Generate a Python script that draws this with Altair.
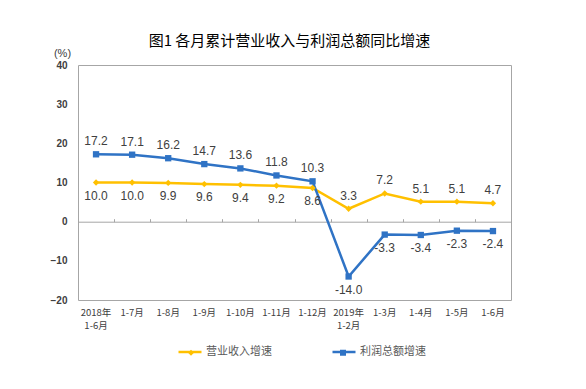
import altair as alt
import pandas as pd

categories = ["2018年|1-6月", "1-7月", "1-8月", "1-9月", "1-10月", "1-11月", "1-12月",
              "2019年|1-2月", "1-3月", "1-4月", "1-5月", "1-6月"]
revenue = [10.0, 10.0, 9.9, 9.6, 9.4, 9.2, 8.6, 3.3, 7.2, 5.1, 5.1, 4.7]
profit = [17.2, 17.1, 16.2, 14.7, 13.6, 11.8, 10.3, -14.0, -3.3, -3.4, -2.3, -2.4]
series_names = ["营业收入增速", "利润总额增速"]
colors = ["#FFC000", "#2F73C5"]
shapes = ["diamond", "square"]

rows = []
for i, c in enumerate(categories):
    r, p = revenue[i], profit[i]
    rows.append({"cat": c, "series": series_names[0], "value": r, "above": bool(r > p)})
    rows.append({"cat": c, "series": series_names[1], "value": p, "above": bool(p > r)})
df = pd.DataFrame(rows)

CJK = "Noto Sans CJK SC"
LAT = "Liberation Sans"

xscale = alt.Scale(type="band", paddingInner=0, paddingOuter=0)
yscale = alt.Scale(domain=[-20, 40], nice=False)
cscale = alt.Scale(domain=series_names, range=colors)

yaxis = alt.Axis(title="(%)", titleAngle=0, titleX=-16, titleY=-12,
                 titleAlign="center", titleBaseline="middle",
                 titleFont=LAT, titleFontSize=11, titleFontWeight="normal",
                 titleColor="#404040",
                 values=[-20, -10, 0, 10, 20, 30, 40], grid=False,
                 domain=False, ticks=False, labelPadding=11,
                 labelFont=LAT, labelFontSize=10, labelFontWeight="bold",
                 labelColor="#404040")

base = alt.Chart(df).transform_calculate(
    label="replace(format(datum.value, '.1f'), '\u2212', '-')"
)

Y = alt.Y("value:Q", scale=yscale, axis=yaxis)

line = base.mark_line(strokeWidth=2.5).encode(
    x=alt.X("cat:N", sort=categories, scale=xscale,
            axis=alt.Axis(orient="bottom", title=None, domain=False, ticks=False,
                          labelAngle=0, labelPadding=7, labelFont=CJK, labelFontSize=9.5,
                          labelColor="#404040", labelLineHeight=13,
                          labelExpr="split(datum.label, '|')")),
    y=Y,
    color=alt.Color("series:N", scale=cscale,
                    legend=alt.Legend(title=None, orient="none", legendX=99, legendY=274,
                                      direction="horizontal", symbolType="stroke",
                                      symbolStrokeWidth=2.5, symbolSize=529,
                                      labelFont=CJK, labelFontSize=11, labelColor="#595959",
                                      labelOffset=3, columnPadding=55)),
)

points = base.mark_point(filled=True, opacity=1, size=40).encode(
    x=alt.X("cat:N", sort=categories, scale=xscale,
            axis=alt.Axis(orient="top", offset=-156.7, title=None, labels=False,
                          domain=True, domainColor="#a6a6a6", domainWidth=1,
                          ticks=True, tickSize=3, tickColor="#a6a6a6", tickBand="extent",
                          grid=False)),
    y=Y,
    color=alt.Color("series:N", scale=cscale,
                    legend=alt.Legend(title=None, orient="none", legendX=107.5, legendY=282,
                                      direction="horizontal", symbolSize=36,
                                      labelFont=CJK, labelFontSize=11,
                                      labelExpr="''", labelOffset=0, columnPadding=141)),
    shape=alt.Shape("series:N", scale=alt.Scale(domain=series_names, range=shapes)),
)

text_above = base.transform_filter("datum.above").mark_text(
    dy=-13, font=LAT, fontSize=12, color="#404040").encode(
    x=alt.X("cat:N", sort=categories, scale=xscale, axis=None),
    y=Y,
    text="label:N",
)

text_below = base.transform_filter("!datum.above").mark_text(
    dy=13, font=LAT, fontSize=12, color="#404040").encode(
    x=alt.X("cat:N", sort=categories, scale=xscale, axis=None),
    y=Y,
    text="label:N",
)

chart = alt.layer(line, points, text_above, text_below).resolve_axis(
    x="independent"
).resolve_scale(
    color="independent", shape="independent"
).resolve_legend(
    color="independent", shape="independent"
).properties(
    width=433,
    height=235,
    autosize=alt.AutoSizeParams(type="none"),
    padding={"left": 70, "top": 57, "right": 60, "bottom": 75},
    title=alt.Title("图1 各月累计营业收入与利润总额同比增速", font=CJK, fontSize=15,
                    fontWeight="normal", color="#000000", anchor="middle", offset=-2, dx=-5),
).configure_view(
    stroke="#a6a6a6", strokeWidth=1
)

chart.save("out.html", embed_options={"renderer": "svg", "actions": False})
